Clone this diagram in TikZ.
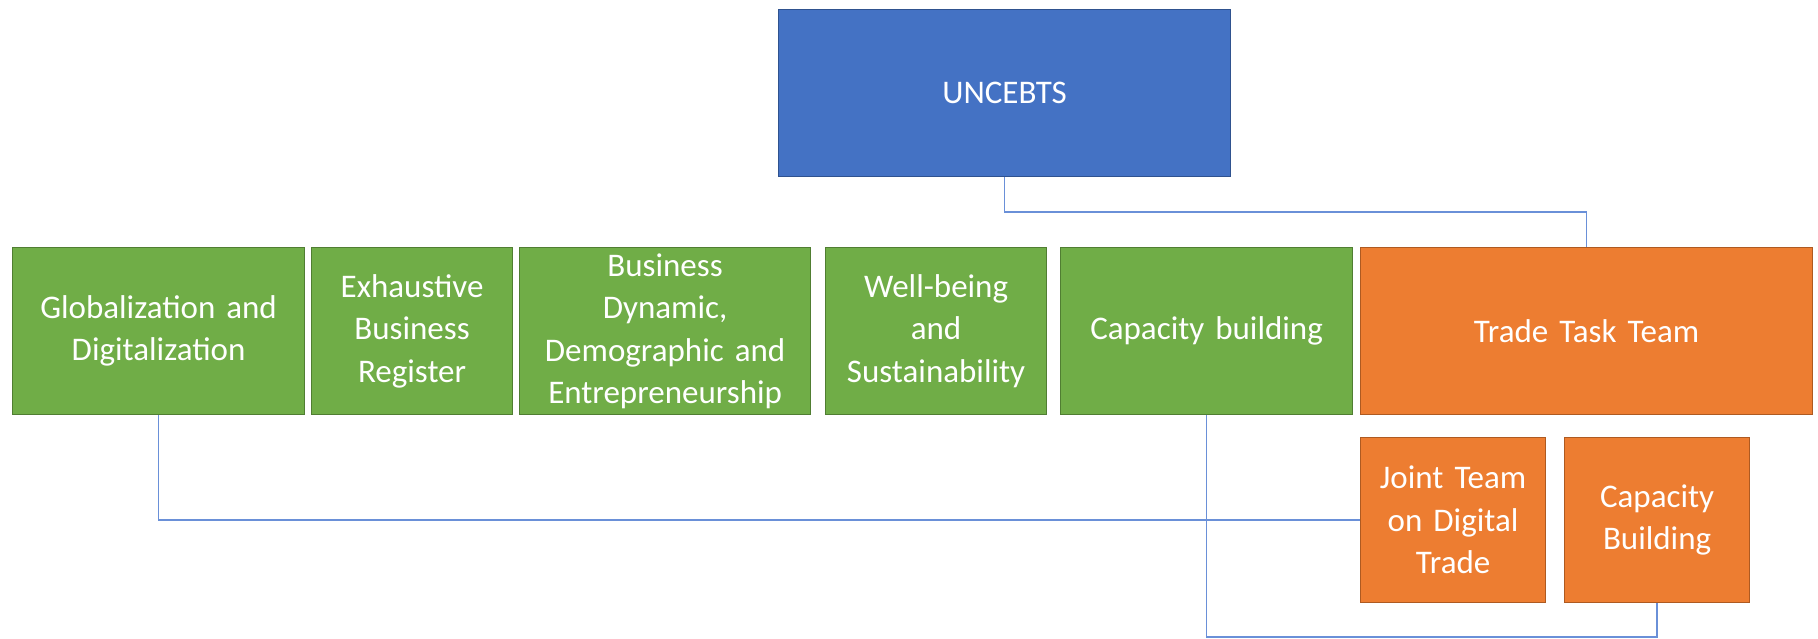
\documentclass[tikz,border=0pt]{standalone}
\usepackage{fontspec}
\setmainfont{Carlito}
\definecolor{ublue}{HTML}{4472C4}
\definecolor{ubluebd}{HTML}{2F528F}
\definecolor{ugreen}{HTML}{70AD47}
\definecolor{ugreenbd}{HTML}{507E32}
\definecolor{uorange}{HTML}{ED7D31}
\definecolor{uorangebd}{HTML}{AE5A21}
\definecolor{uline}{HTML}{6A90D8}
\newcommand{\boxfont}{\fontsize{33}{42.5}\selectfont\spaceskip=0.2em\relax}
\begin{document}
\begin{tikzpicture}[x=1pt,y=-1pt,
  box/.style={draw, line width=1.2pt, anchor=north west, inner sep=0pt, align=center,
    text=white, font=\boxfont},
  bluebox/.style={box, fill=ublue, draw=ubluebd},
  greenbox/.style={box, fill=ugreen, draw=ugreenbd},
  orangebox/.style={box, fill=uorange, draw=uorangebd},
  conn/.style={draw=uline, line width=1.6pt}]
\useasboundingbox (0,0) rectangle (1818,638);
\node[bluebox, minimum width=452pt, minimum height=167pt] (unc) at (778,9) {};
\node[text=white, font=\boxfont] (unclabel) at (unc.center) {UNCEBTS};
\node[greenbox, minimum width=292pt, minimum height=167pt, text width=288pt] (glob) at (12,247) {Globalization and\\Digitalization};
\node[greenbox, minimum width=201pt, minimum height=167pt, text width=197pt] (exh) at (311,247) {Exhaustive\\Business\\Register};
\node[greenbox, minimum width=291pt, minimum height=167pt, text width=289pt] (bus) at (519,247) {Business\\Dynamic,\\Demographic and\\Entrepreneurship};
\node[greenbox, minimum width=221pt, minimum height=167pt, text width=217pt] (well) at (825,247) {Well-being\\and\\Sustainability};
\node[greenbox, minimum width=292pt, minimum height=167pt, text width=288pt] (cap) at (1060,247) {Capacity building};
\node[orangebox, minimum width=452pt, minimum height=167pt, text width=444pt] (trade) at (1360,247) {Trade Task Team};
\node[orangebox, minimum width=185pt, minimum height=165pt, text width=183pt] (joint) at (1360,437) {Joint Team\\on Digital\\Trade};
\node[orangebox, minimum width=185pt, minimum height=165pt, text width=183pt] (capb) at (1564,437) {Capacity\\Building};
\draw[conn] (unc.south) -- ++(0,35) -| (trade.north);
\draw[conn] (glob.south) |- (joint.west);
\draw[conn] (cap.south) -- ++(0,222) -| (capb.south);
\end{tikzpicture}
\end{document}
